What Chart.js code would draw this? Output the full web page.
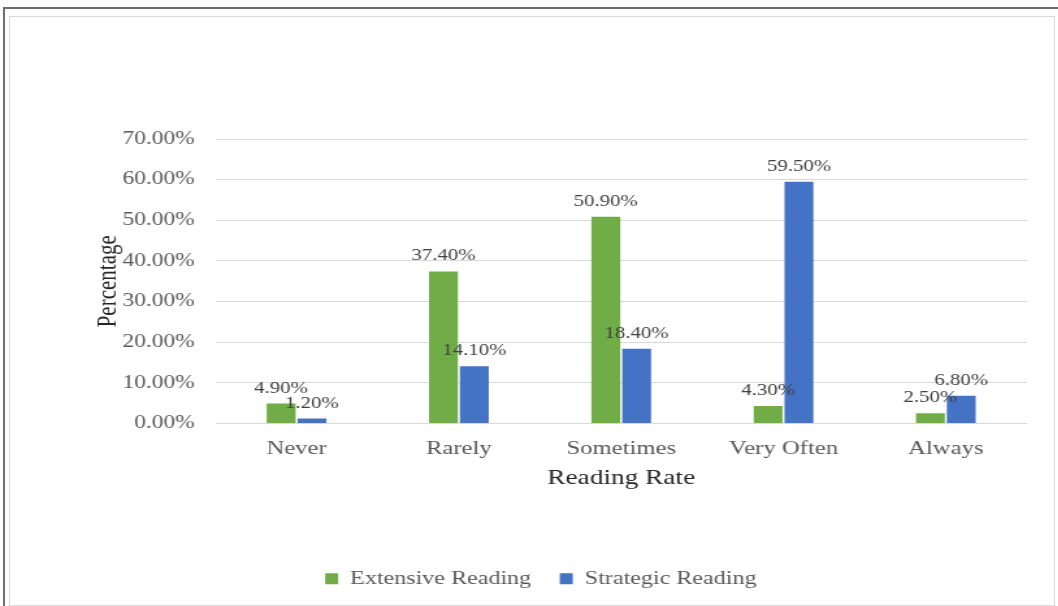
<!DOCTYPE html>
<html>
<head>
<meta charset="utf-8">
<script src="https://cdn.jsdelivr.net/npm/chart.js@4.4.1/dist/chart.umd.min.js"></script>
<style>
	html, body { margin: 0; padding: 0; background: #ffffff; }
	#wrap { position: relative; width: 1058px; height: 606px; overflow: hidden; }
	#outer { position: absolute; left: 3px; top: 7px; right: 0; bottom: 0; border-top: 2px solid #6e6e6e; border-left: 2px solid #6e6e6e; }
	#inner { position: absolute; left: 9px; top: 16px; width: 1044px; height: 588px; border: 1px solid #d9d9d9; }
	/* the reference is stretched sideways, so the canvas is too */
	#readingChart { position: absolute; left: 0; top: 0; transform: scaleX(1.3); transform-origin: 0 0; }
</style>
</head>
<body>
<div id="wrap">
	<div id="outer"></div>
	<div id="inner"></div>
	<canvas id="readingChart" width="814" height="606"></canvas>
</div>
<script>
// Data.
var categories = ["Never", "Rarely", "Sometimes", "Very Often", "Always"];
var extensiveReading = [4.9, 37.4, 50.9, 4.3, 2.5];
var strategicReading = [1.2, 14.1, 18.4, 59.5, 6.8];
var yTickValues = [0, 10, 20, 30, 40, 50, 60, 70];

Chart.defaults.font.family = "'Liberation Serif', 'Times New Roman', serif";

// Draw the value above each bar.
var barValueLabels = {
	id: "barValueLabels",
	afterDatasetsDraw: function (chart) {
		var ctx = chart.ctx;
		ctx.save();
		ctx.font = "16px 'Liberation Serif', 'Times New Roman', serif";
		ctx.fillStyle = "#404040";
		ctx.textAlign = "center";
		ctx.textBaseline = "alphabetic";
		chart.data.datasets.forEach(function (dataset, i) {
			var meta = chart.getDatasetMeta(i);
			meta.data.forEach(function (bar, j) {
				ctx.fillText(dataset.data[j].toFixed(2) + "%", bar.x, bar.y - 11);
			});
		});
		ctx.restore();
	},
};

var ctx = document.getElementById("readingChart");
var config = {
	type: "bar",
	data: {
		labels: categories,
		datasets: [
			{
				label: "Extensive Reading",
				backgroundColor: "#70ad47",
				borderWidth: 0,
				data: extensiveReading,
			},
			{
				label: "Strategic Reading",
				backgroundColor: "#4472c4",
				borderWidth: 0,
				data: strategicReading,
			},
		],
	},
	plugins: [barValueLabels],
	options: {
		responsive: false,
		animation: false,
		devicePixelRatio: 1,
		categoryPercentage: 0.38,
		barPercentage: 0.935,
		layout: {
			padding: { top: 139, left: 42, right: 24, bottom: 8 },
		},
		plugins: {
			tooltip: { enabled: false },
			legend: {
				display: true,
				position: "bottom",
				labels: {
					boxWidth: 10,
					boxHeight: 11,
					padding: 22,
					color: "#595959",
					font: { size: 18.5 },
				},
			},
		},
		scales: {
			x: {
				grid: { display: false },
				border: { display: false },
				ticks: {
					color: "#595959",
					font: { size: 19 },
					padding: 6,
				},
				title: {
					display: true,
					text: "Reading Rate",
					color: "#262626",
					font: { size: 21 },
					padding: { top: 0, bottom: 56 },
				},
			},
			y: {
				min: 0,
				max: 70,
				afterBuildTicks: function (scale) {
					scale.ticks = yTickValues.map(function (v) {
						return { value: v };
					});
				},
				grid: {
					color: "#d9d9d9",
					lineWidth: 1,
					drawTicks: false,
				},
				border: { display: false },
				ticks: {
					color: "#595959",
					font: { size: 18 },
					padding: 16,
					callback: function (value) {
						return value.toFixed(2) + "%";
					},
				},
				title: {
					display: true,
					text: "Percentage",
					color: "#262626",
					font: { size: 21 },
					padding: { top: 29, bottom: -18 },
				},
			},
		},
	},
};

window.readingChart = new Chart(ctx, config);
</script>
</body>
</html>
